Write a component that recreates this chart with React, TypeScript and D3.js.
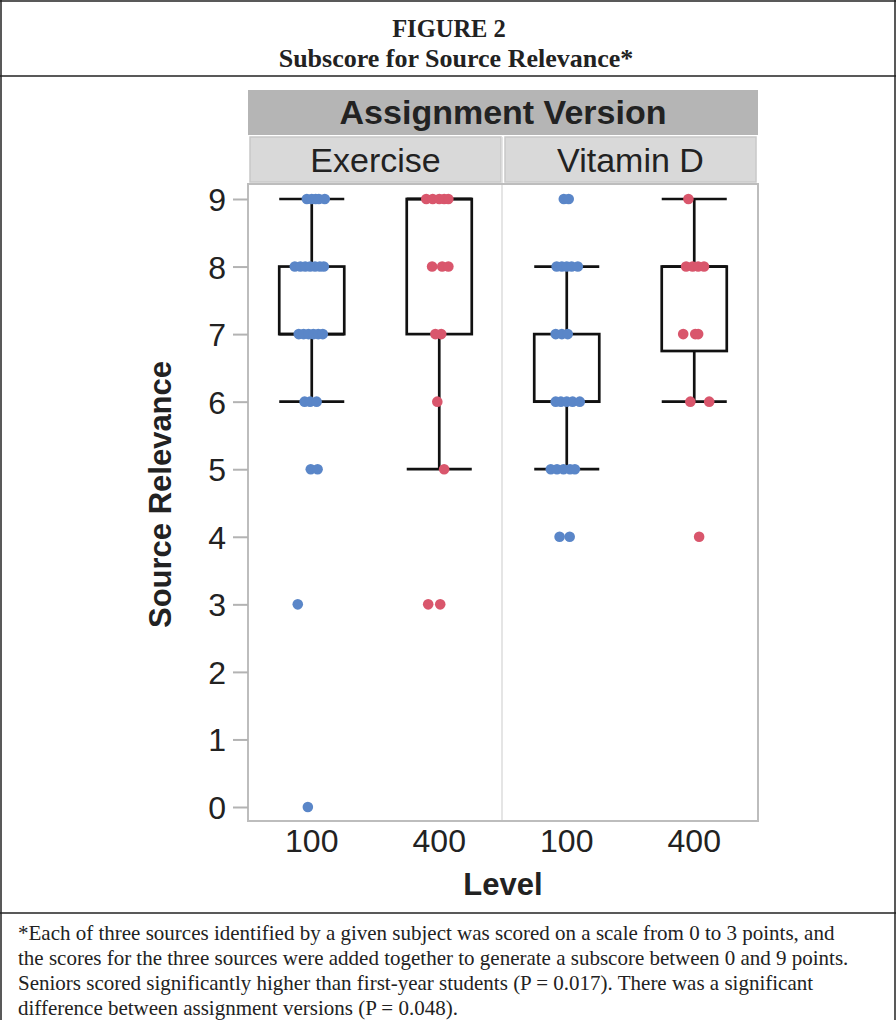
import React, { useEffect, useRef } from "react";
import * as d3 from "d3";

const width = 896;
const height = 1020;
const plot = { left: 248, right: 758, top: 184, bottom: 821 };

// facet + category labels
const versions = ["Exercise", "Vitamin D"];
const levels = ["100", "400"];
const yTicks = [0, 1, 2, 3, 4, 5, 6, 7, 8, 9];

// box stats per version/level: [lowWhisker, q1, median, q3, highWhisker]
const exerciseBoxes = [
  [6, 7, 7, 8, 9],
  [5, 7, 9, 9, 9]
];
const vitaminBoxes = [
  [5, 6, 6, 7, 8],
  [6, 6.75, 8, 8, 9]
];

// points: [score, jitter] (jitter in -1..1 of half box width)
const exercise100 = [
  [9, -0.15], [9, 0], [9, 0.12], [9, 0.22], [9, 0.4],
  [8, -0.52], [8, -0.35], [8, -0.2], [8, -0.05], [8, 0.1], [8, 0.25], [8, 0.37],
  [7, -0.4], [7, -0.25], [7, -0.1], [7, 0.05], [7, 0.2], [7, 0.34],
  [6, -0.22], [6, -0.05], [6, 0.15],
  [5, -0.03], [5, 0.18],
  [3, -0.43], [0, -0.12]
];
const exercise400 = [
  [9, -0.4], [9, -0.2], [9, 0], [9, 0.15], [9, 0.28],
  [8, -0.22], [8, 0.09], [8, 0.28],
  [7, -0.12], [7, 0.06],
  [6, -0.06], [5, 0.15],
  [3, -0.34], [3, 0.03]
];
const vitamin100 = [
  [9, -0.09], [9, 0.06],
  [8, -0.31], [8, -0.15], [8, 0], [8, 0.15], [8, 0.34],
  [7, -0.34], [7, -0.15], [7, 0.03],
  [6, -0.34], [6, -0.18], [6, 0], [6, 0.18], [6, 0.4],
  [5, -0.49], [5, -0.3], [5, -0.1], [5, 0.1], [5, 0.25],
  [4, -0.22], [4, 0.09]
];
const vitamin400 = [
  [9, -0.18],
  [8, -0.25], [8, -0.05], [8, 0.12], [8, 0.3],
  [7, -0.34], [7, 0.03], [7, 0.12],
  [6, -0.12], [6, 0.46],
  [4, 0.15]
];

const levelColors = ["#5a86c8", "#d9566c"];

const footnote = [
  "*Each of three sources identified by a given subject was scored on a scale from 0 to 3 points, and",
  "the scores for the three sources were added together to generate a subscore between 0 and 9 points.",
  "Seniors scored significantly higher than first-year students (P = 0.017). There was a significant",
  "difference between assignment versions (P = 0.048)."
];

const panels = [
  { boxes: exerciseBoxes, points: [exercise100, exercise400] },
  { boxes: vitaminBoxes, points: [vitamin100, vitamin400] }
];

export default function App() {
  const yAxisRef = useRef<SVGGElement>(null);

  const yScale = d3.scaleLinear().domain([0, 9]).range([807, 199]);
  const panelScale = d3.scaleBand().domain(versions).range([plot.left, plot.right]);
  const pw = panelScale.bandwidth();
  const levelScale = d3.scalePoint().domain(levels).range([0, pw]).padding(0.5);
  const boxW = pw * 0.255;
  const jitter = d3.scaleLinear().domain([-1, 1]).range([-boxW / 2, boxW / 2]);

  useEffect(() => {
    const axis = d3.axisLeft(yScale).tickValues(yTicks).tickSize(15).tickPadding(7);
    const g = d3.select(yAxisRef.current);
    g.call(axis);
    g.select(".domain").remove();
    g.selectAll(".tick line").attr("stroke", "#b3b3b3").attr("stroke-width", 2);
    g.selectAll(".tick text")
      .attr("font-size", 32)
      .attr("font-family", "Liberation Sans, Arial, sans-serif")
      .attr("fill", "#222")
      .attr("dy", "0.36em");
  }, []);

  return (
    <svg width={width} height={height} style={{ position: "absolute", left: 0, top: 0 }}
      fontFamily="Liberation Sans, Arial, sans-serif">
      <rect x={0} y={0} width={width} height={height} fill="#fff" />

      {/* frame */}
      <g stroke="#222" strokeWidth={1.5} fill="none">
        <line x1={1} y1={0} x2={1} y2={height} />
        <line x1={895} y1={0} x2={895} y2={height} />
        <line x1={0} y1={1} x2={width} y2={1} />
        <line x1={0} y1={76} x2={width} y2={76} />
        <line x1={0} y1={913} x2={width} y2={913} />
      </g>

      {/* title */}
      <g fontFamily="Liberation Serif, Times New Roman, serif" fontWeight="bold" textAnchor="middle" fill="#222">
        <text x={449} y={37} fontSize={24.5}>FIGURE 2</text>
        <text x={456} y={67} fontSize={26}>Subscore for Source Relevance*</text>
      </g>

      {/* facet header */}
      <rect x={plot.left} y={90} width={plot.right - plot.left} height={45} fill="#b5b5b5" />
      <text x={(plot.left + plot.right) / 2} y={124} textAnchor="middle" fontSize={34}
        fontWeight="bold" fill="#222">Assignment Version</text>
      {versions.map((v) => (
        <g key={v}>
          <rect x={(panelScale(v) as number) + 2} y={137} width={pw - 4} height={45}
            fill="#d9d9d9" stroke="#c8c8c8" strokeWidth={1.5} />
          <text x={(panelScale(v) as number) + pw / 2} y={172} textAnchor="middle" fontSize={34}
            fill="#222">{v}</text>
        </g>
      ))}
      <line x1={502} x2={502} y1={137} y2={plot.bottom} stroke="#dcdcdc" strokeWidth={1.5} />

      {/* panel border */}
      <rect x={plot.left} y={plot.top} width={plot.right - plot.left} height={plot.bottom - plot.top}
        fill="none" stroke="#bdbdbd" strokeWidth={2} />

      <g ref={yAxisRef} transform={`translate(${plot.left},0)`} />

      {panels.map((p, pi) => {
        const x0 = panelScale(versions[pi]) as number;
        return (
          <g key={pi}>
            {levels.map((lv, li) => {
              const cx = x0 + (levelScale(lv) as number);
              const [lo, q1, med, q3, hi] = p.boxes[li];
              return (
                <g key={lv}>
                  <g stroke="#111" strokeWidth={2.7} fill="none">
                    <line x1={cx} x2={cx} y1={yScale(hi)} y2={yScale(q3)} />
                    <line x1={cx} x2={cx} y1={yScale(q1)} y2={yScale(lo)} />
                    <line x1={cx - boxW / 2} x2={cx + boxW / 2} y1={yScale(hi)} y2={yScale(hi)} />
                    <line x1={cx - boxW / 2} x2={cx + boxW / 2} y1={yScale(lo)} y2={yScale(lo)} />
                    <rect x={cx - boxW / 2} y={yScale(q3)} width={boxW} height={yScale(q1) - yScale(q3)} />
                    <line x1={cx - boxW / 2} x2={cx + boxW / 2} y1={yScale(med)} y2={yScale(med)} />
                  </g>
                  {p.points[li].map((d, i) => (
                    <circle key={i} cx={cx + jitter(d[1])} cy={yScale(d[0])} r={5.3}
                      fill={levelColors[li]} />
                  ))}
                  <text x={cx} y={852} textAnchor="middle" fontSize={32} fill="#222">{lv}</text>
                </g>
              );
            })}
          </g>
        );
      })}

      {/* axis titles */}
      <text x={(plot.left + plot.right) / 2} y={895} textAnchor="middle" fontSize={31}
        fontWeight="bold" fill="#222">Level</text>
      <text transform={`translate(171,${(plot.top + plot.bottom) / 2 - 8}) rotate(-90)`} textAnchor="middle"
        fontSize={31} fontWeight="bold" fill="#222">Source Relevance</text>

      {/* footnote */}
      <g fontFamily="Liberation Serif, Times New Roman, serif" fontSize={21} fill="#222">
        {footnote.map((t, i) => (
          <text key={i} x={18} y={940 + i * 25}>{t}</text>
        ))}
      </g>
    </svg>
  );
}
